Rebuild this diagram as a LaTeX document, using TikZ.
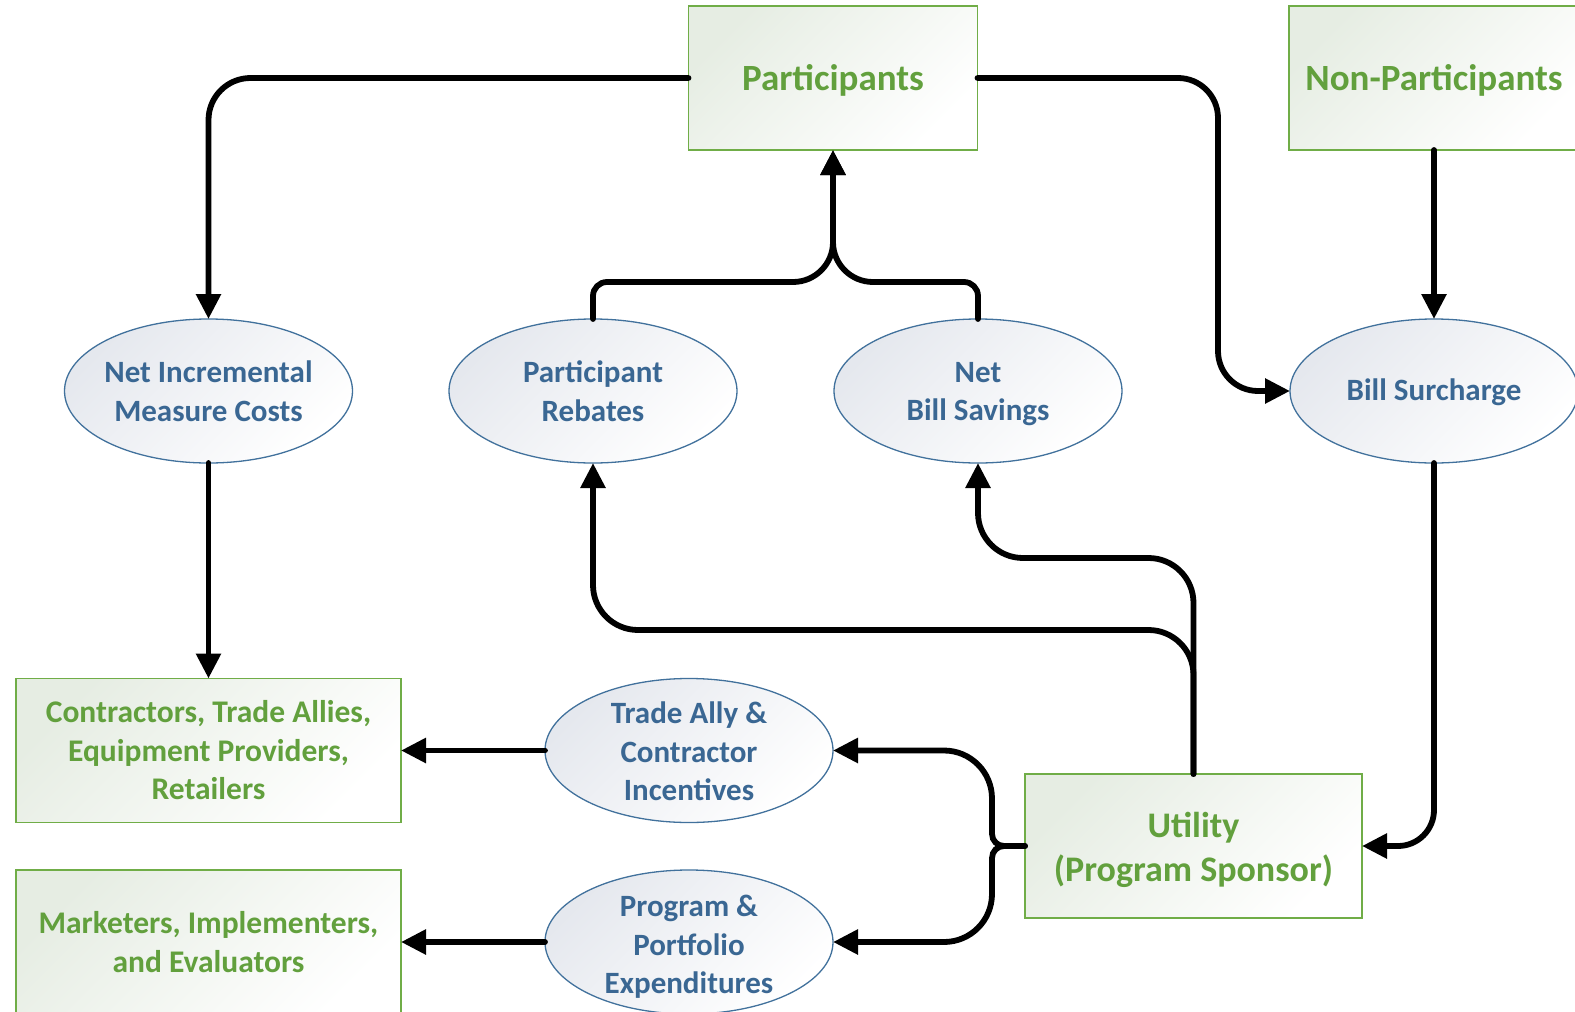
\documentclass[tikz,border=0pt]{standalone}
\usepackage{fontspec}
\setmainfont{Carlito}
\usetikzlibrary{arrows.meta,shapes.geometric}
\definecolor{gtext}{HTML}{62A03D}
\definecolor{gline}{HTML}{70AD47}
\definecolor{btext}{HTML}{3A6793}
\definecolor{bline}{HTML}{41719C}
\definecolor{gfill}{HTML}{E6EDE3}
\definecolor{bfill}{HTML}{E5E8EE}
\begin{document}
\begin{tikzpicture}[x=1pt,y=1pt,
  gbox/.style={rectangle, draw=gline, line width=1.5pt, top color=gfill, bottom color=white, shading angle=45,
    inner sep=0pt, outer sep=0pt, text=gtext, align=center, font=\bfseries\fontsize{31.5}{38.5}\selectfont},
  gtxt/.style={text=gtext, align=center},
  bigtxt/.style={font=\bfseries\fontsize{37}{44}\selectfont},
  utxt/.style={font=\bfseries\fontsize{36}{44}\selectfont},
  bell/.style={ellipse, draw=bline, line width=1.3pt, top color=bfill, bottom color=white, shading angle=45,
    minimum width=288pt, minimum height=144pt, inner sep=0pt, outer sep=0pt},
  etext/.style={text=btext, align=center, font=\bfseries\fontsize{31}{38.5}\selectfont},
  conn/.style={line width=5.8pt, line cap=round, -{Triangle[length=25pt,width=24pt]}}
]
\useasboundingbox (0,0) rectangle (1575,-1012);

% boxes
\node[gbox, minimum width=289pt, minimum height=144pt,
  label={[gtxt, bigtxt, yshift=-2pt]center:{Participants}}] (P) at (833,-78) {};
\node[gbox, minimum width=290pt, minimum height=144pt,
  label={[gtxt, bigtxt, yshift=-2pt]center:{Non-Participants}}] (NP) at (1434,-78) {};
\node[gbox, minimum width=385pt, minimum height=144pt] (C) at (208.5,-750.5) {Contractors, Trade Allies,\\Equipment Providers,\\Retailers};
\node[gbox, minimum width=385pt, minimum height=144pt] (M) at (208.5,-942) {Marketers, Implementers,\\and Evaluators};
\node[gbox, minimum width=337pt, minimum height=144pt,
  label={[gtxt, utxt, yshift=-4pt]center:{Utility\\(Program Sponsor)}}] (U) at (1193.5,-846) {};

% ellipses
\node[bell, label={[etext]center:{Net Incremental\\Measure Costs}}] (NIM) at (208.5,-391) {};
\node[bell, label={[etext]center:{Participant\\Rebates}}] (PR) at (593,-391) {};
\node[bell, label={[etext, yshift=-3pt]center:{Net\\Bill Savings}}] (NBS) at (978,-391) {};
\node[bell, label={[etext, yshift=-1pt]center:{Bill Surcharge}}] (BS) at (1434,-391) {};
\node[bell, label={[etext, yshift=-1pt]center:{Trade Ally \&\\Contractor\\Incentives}}] (TA) at (689,-750.5) {};
\node[bell, label={[etext, yshift=-5pt]center:{Program \&\\Portfolio\\Expenditures}}] (PPE) at (689,-942) {};

% connectors
\draw[conn, rounded corners=42pt] (P.west) -| (NIM.north);
\draw[conn, rounded corners=40pt] (P.east) -- (1218,-78) -- (1218,-391) -- (BS.west);
\draw[conn] (NP.south) -- (BS.north);
\draw[conn, rounded corners=36pt] (BS.south) |- (U.east);
\draw[conn] (NIM.south) -- (C.north);

\draw[conn] (PR.north) -- (593,-296) arc[start angle=180, end angle=90, radius=14]
  -- (793,-282) arc[start angle=270, end angle=360, radius=40] -- (P.south);
\draw[conn] (NBS.north) -- (978,-296) arc[start angle=0, end angle=90, radius=14]
  -- (873,-282) arc[start angle=270, end angle=180, radius=40] -- (P.south);

\draw[conn] (U.north) -- (1193.5,-675) arc[start angle=0, end angle=90, radius=45]
  -- (638,-630) arc[start angle=270, end angle=180, radius=45] -- (PR.south);
\draw[conn] (U.north) -- (1193.5,-603) arc[start angle=0, end angle=90, radius=45]
  -- (1023,-558) arc[start angle=270, end angle=180, radius=45] -- (NBS.south);

\draw[conn] (U.west) -- (1004,-846) arc[start angle=270, end angle=180, radius=12]
  -- (992,-798.5) arc[start angle=0, end angle=90, radius=48] -- (TA.east);
\draw[conn] (U.west) -- (1004,-846) arc[start angle=90, end angle=180, radius=12]
  -- (992,-894) arc[start angle=0, end angle=-90, radius=48] -- (PPE.east);

\draw[conn] (TA.west) -- (C.east);
\draw[conn] (PPE.west) -- (M.east);
\end{tikzpicture}
\end{document}
